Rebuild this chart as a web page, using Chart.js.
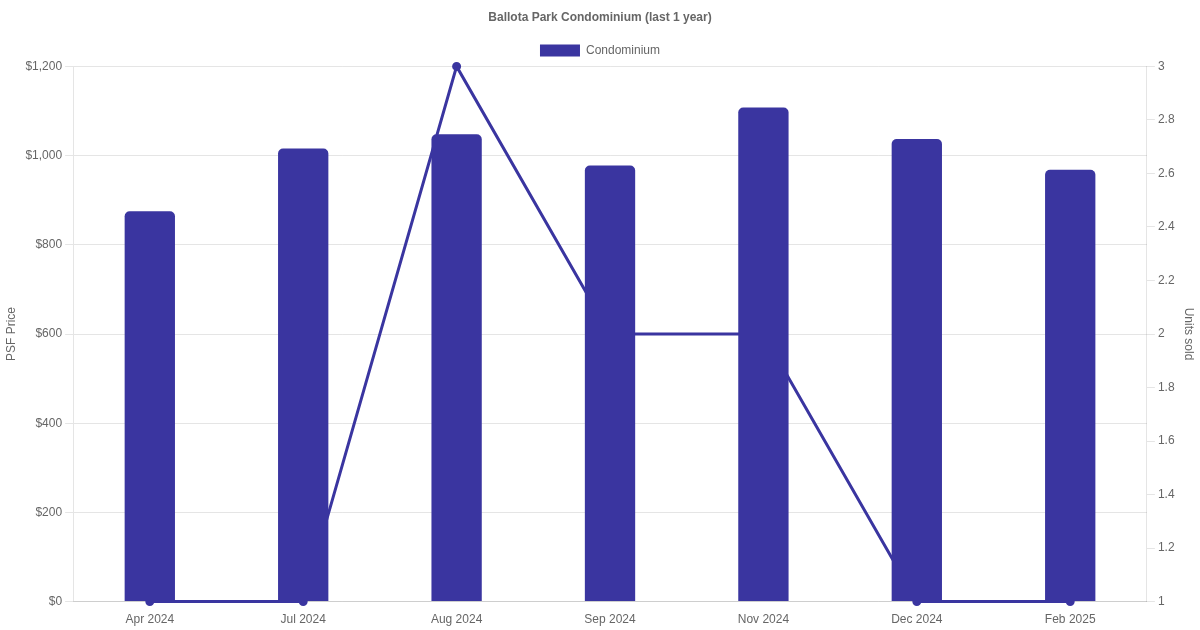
<!DOCTYPE html>
<html>
<head>
<meta charset="utf-8">
<script src="https://cdn.jsdelivr.net/npm/chart.js@4"></script>
<style>
  html, body { margin: 0; padding: 0; background: #fff; }
  #wrap { width: 1200px; height: 630px; }
</style>
</head>
<body>
<div id="wrap"><canvas id="psfChart" width="1200" height="630"></canvas></div>
<script>
const months = ['Apr 2024', 'Jul 2024', 'Aug 2024', 'Sep 2024', 'Nov 2024', 'Dec 2024', 'Feb 2025'];
const psfPrice = [875, 1016, 1048, 978, 1108, 1037, 968];
const unitsSold = [1, 1, 3, 2, 2, 1, 1];

const mainColor = '#3a35a0';

Chart.defaults.font.family = "'Helvetica Neue', Helvetica, Arial, sans-serif";
Chart.defaults.color = '#666';

new Chart(document.getElementById('psfChart').getContext('2d'), {
  type: 'bar',
  data: {
    labels: months,
    datasets: [
      {
        label: 'Condominium',
        data: psfPrice,
        backgroundColor: mainColor,
        borderRadius: 5,
        borderSkipped: 'bottom',
        barPercentage: 0.41,
        categoryPercentage: 0.8,
        yAxisID: 'y',
        order: 1,
      },
      {
        type: 'line',
        label: 'Units sold',
        data: unitsSold,
        borderColor: mainColor,
        backgroundColor: mainColor,
        borderWidth: 3,
        pointRadius: 3,
        tension: 0,
        fill: false,
        clip: false,
        yAxisID: 'y1',
        order: 2,
      },
    ],
  },
  options: {
    responsive: false,
    animation: false,
    plugins: {
      title: {
        display: true,
        text: 'Ballota Park Condominium (last 1 year)',
        font: { size: 12, weight: 'bold' },
      },
      legend: {
        labels: {
          filter: item => item.text === 'Condominium',
        },
      },
    },
    scales: {
      x: {
        grid: { display: false },
      },
      y: {
        position: 'left',
        min: 0,
        max: 1200,
        ticks: {
          stepSize: 200,
          callback: v => '$' + v.toLocaleString('en-US'),
        },
        title: { display: true, text: 'PSF Price' },
      },
      y1: {
        position: 'right',
        min: 1,
        max: 3,
        ticks: {
          stepSize: 0.2,
          callback: v => String(Number(v.toFixed(1))),
        },
        grid: { drawOnChartArea: false },
        title: { display: true, text: 'Units sold' },
      },
    },
  },
});
</script>
</body>
</html>
